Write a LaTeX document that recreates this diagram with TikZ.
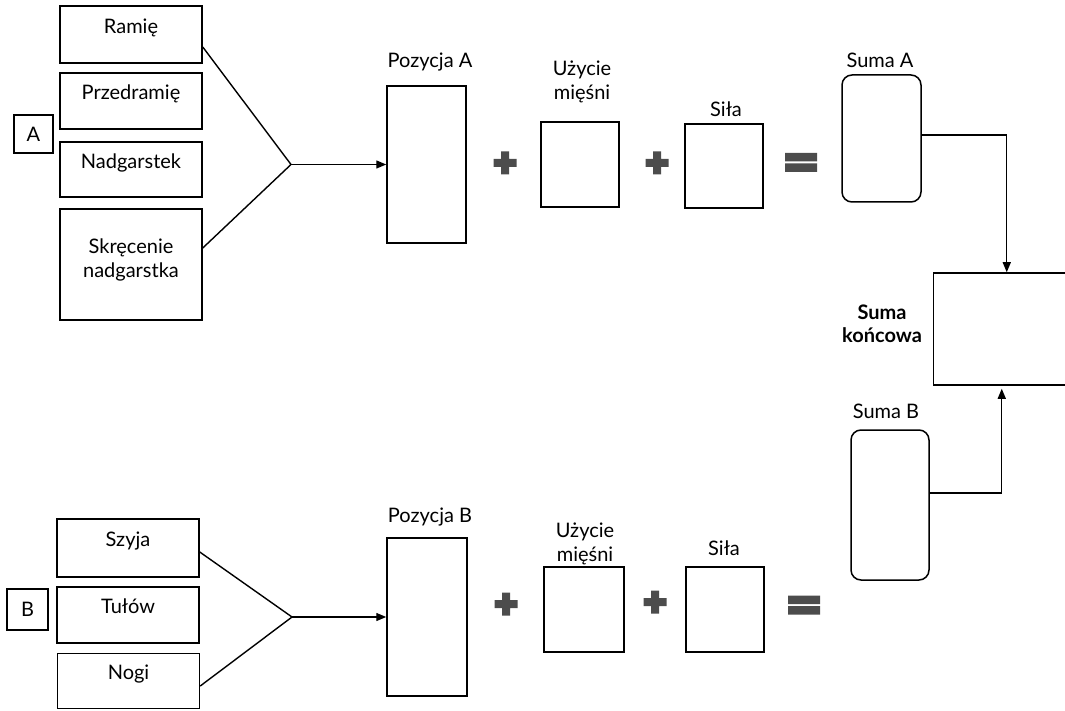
\documentclass[tikz,border=0pt]{standalone}
\usepackage{fontspec}
\setmainfont{Lato}
\usepackage{tikz}
\usetikzlibrary{arrows.meta,positioning}
\definecolor{signgray}{gray}{0.3}
\tikzset{
    part/.style={
    rectangle,draw=black,line width=1.5pt,minimum width=142pt,inner sep=0pt,align=center,text depth=17pt
    },
    tag/.style={
    rectangle,draw=black,line width=1.5pt,inner sep=0pt
    },
    score/.style={
    rectangle,draw=black,line width=1.5pt,inner sep=0pt
    },
    sumbox/.style={
    rectangle,rounded corners=10pt,draw=black,line width=1.5pt,inner sep=0pt
    },
    heading/.style={
    anchor=base,align=center,inner sep=0pt
    },
    plussign/.style={
    rectangle,minimum size=23pt,inner sep=0pt,
    path picture={\fill[signgray]
      ([xshift=-11.5pt,yshift=-4pt]path picture bounding box.center) rectangle ([xshift=11.5pt,yshift=4pt]path picture bounding box.center)
      ([xshift=-4pt,yshift=-11.5pt]path picture bounding box.center) rectangle ([xshift=4pt,yshift=11.5pt]path picture bounding box.center);}
    },
    eqsign/.style={
    rectangle,minimum width=32pt,minimum height=19pt,inner sep=0pt,
    path picture={\fill[signgray]
      (path picture bounding box.north west) rectangle ++(32pt,-8.5pt)
      (path picture bounding box.south west) rectangle ++(32pt,8.5pt);}
    },
    link/.style={
    line width=1.4pt
    },
    arrowlink/.style={
    line width=1.4pt,-{Triangle[length=10pt,width=8pt]}
    },
}
\begin{document}
\begin{tikzpicture}[x=1pt, y=-1pt, font=\fontsize{20}{24}\selectfont]
   \useasboundingbox (0,0) rectangle (1065,711);

   %group A
   \node[part,minimum height=57pt] (ramie) at (131,34.5) {Ramię};
   \node[part,minimum height=56pt] (przedramie) at (131,101) {Przedramię};
   \node[part,minimum height=55pt] (nadgarstek) at (131,169.5) {Nadgarstek};
   \node[part,minimum height=111pt,text depth=12pt] (skrecenie) at (131,264.5) {Skręcenie\\nadgarstka};
   \node[tag,minimum width=39pt,minimum height=38pt] (tagA) at (33.5,134) {A};
   \coordinate (joinA) at (291,164.5);

   \node[score,minimum width=79pt,minimum height=157pt] (pozA) at (426.5,164.5) {};
   \node[heading] (pozAt) at (430,68) {Pozycja A};
   \node[plussign] (plusA1) at (505,163) {};
   \node[score,minimum width=78pt,minimum height=85pt] (uzyA) at (580,164.5) {};
   \node[heading] (uzyAt) at (582,100) {Użycie\\mięśni};
   \node[plussign] (plusA2) at (657,163) {};
   \node[score,minimum width=78pt,minimum height=84pt] (silaA) at (724,166) {};
   \node[heading] (silaAt) at (726,117) {Siła};
   \node[eqsign] (eqA) at (801,162.5) {};
   \node[sumbox,minimum width=79pt,minimum height=127pt] (sumaA) at (881.5,138.5) {};
   \node[heading] (sumaAt) at (880,68) {Suma A};

   %final sum
   \node[score,minimum width=137pt,minimum height=112pt] (final) at (1002,329) {};
   \node[heading,font=\fontsize{20}{23}\selectfont\bfseries] (finalt) at (882,342) {Suma\\końcowa};

   %group B
   \node[part,minimum height=58pt] (szyja) at (128,548) {Szyja};
   \node[part,minimum height=56pt] (tulow) at (128,615) {Tułów};
   \node[part,minimum height=55pt] (nogi) at (128.5,681) {Nogi};
   \node[tag,minimum width=41pt,minimum height=41pt] (tagB) at (27.5,609.5) {B};
   \coordinate (joinB) at (292,617);

   \node[score,minimum width=80pt,minimum height=158pt] (pozB) at (427,617) {};
   \node[heading] (pozBt) at (430,522) {Pozycja B};
   \node[plussign] (plusB1) at (506,604) {};
   \node[score,minimum width=80pt,minimum height=85pt] (uzyB) at (584,609.5) {};
   \node[heading] (uzyBt) at (585,561) {Użycie\\mięśni};
   \node[plussign] (plusB2) at (655,602) {};
   \node[score,minimum width=78pt,minimum height=85pt] (silaB) at (725,609.5) {};
   \node[heading] (silaBt) at (724,555) {Siła};
   \node[eqsign] (eqB) at (804,605) {};
   \node[sumbox,minimum width=78pt,minimum height=150pt] (sumaB) at (890,505) {};
   \node[heading] (sumaBt) at (886,418) {Suma B};

   %connections
   \draw[link] ([yshift=-12.5pt]ramie.east) -- (joinA) -- ([yshift=16.5pt]skrecenie.east);
   \draw[arrowlink] (joinA) -- (pozA.west);
   \draw[link] ([yshift=-4pt]szyja.east) -- (joinB) -- ([yshift=-5pt]nogi.east);
   \draw[arrowlink] (joinB) -- (pozB.west);
   \draw[arrowlink] ([yshift=3.5pt]sumaA.east) -| ([xshift=74pt]final.north west);
   \draw[arrowlink,shorten >=3pt] ([yshift=12pt]sumaB.east) -| ([xshift=69pt]final.south west);
\end{tikzpicture}
\end{document}
